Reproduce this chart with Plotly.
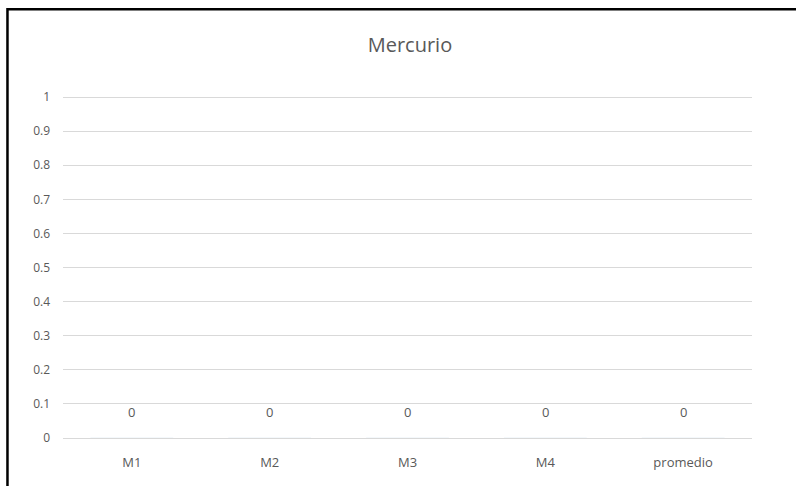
import plotly.graph_objects as go

# Mercury readings per sample and their average
categories = ["M1", "M2", "M3", "M4", "promedio"]
values = [0, 0, 0, 0, 0]
y_ticks = [0, 0.1, 0.2, 0.3, 0.4, 0.5, 0.6, 0.7, 0.8, 0.9, 1]

FONT = "Open Sans"
GREY = "#595959"
GRID = "#d9d9d9"

fig = go.Figure()
fig.add_trace(go.Bar(
    x=categories,
    y=values,
    marker_color="#4472c4",
    width=0.6,
    hoverinfo="x+y",
))

# Value labels sitting above each bar
for c, v in zip(categories, values):
    fig.add_annotation(
        x=c, y=v, text=str(v), showarrow=False,
        yshift=26, font=dict(family=FONT, size=13, color=GREY),
    )

# Chart frame (top and left edges visible)
fig.add_shape(
    type="rect", xref="paper", yref="paper",
    x0=-0.0806, x1=1.2, y0=-0.3, y1=1.2537,
    line=dict(color="black", width=2.5), fillcolor="rgba(0,0,0,0)",
    layer="below",
)

fig.update_layout(
    width=796, height=486,
    margin=dict(l=63, r=44, t=96, b=48),
    paper_bgcolor="white",
    plot_bgcolor="white",
    showlegend=False,
    title=dict(
        text="Mercurio", x=0.515, xanchor="center", y=0.907, yanchor="middle",
        font=dict(family=FONT, size=20, color=GREY),
    ),
    font=dict(family=FONT, size=13, color=GREY),
)
fig.update_xaxes(
    showgrid=False, showline=False, ticks="",
    tickfont=dict(family=FONT, size=13, color=GREY),
    ticklabelstandoff=15,
)
fig.update_yaxes(
    range=[0, 1.003], tickvals=y_ticks,
    ticktext=[("%g" % t) for t in y_ticks],
    showgrid=True, gridcolor=GRID, gridwidth=1,
    zeroline=True, zerolinecolor=GRID, zerolinewidth=1,
    showline=False, ticks="",
    tickfont=dict(family=FONT, size=12, color=GREY),
    ticklabelstandoff=12,
)

fig.write_html("out.html")
